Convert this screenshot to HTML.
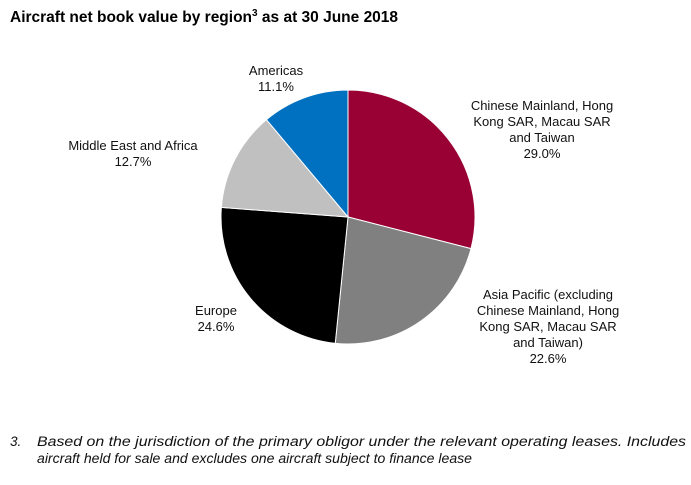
<!DOCTYPE html>
<html><head><meta charset="utf-8"><style>
body{margin:0;background:#fff;}
svg{display:block;font-family:"Liberation Sans",Arial,sans-serif;}
</style></head><body>
<svg width="691" height="485" viewBox="0 0 691 485">
<text x="10" y="22" font-size="15.5" font-weight="bold" fill="#000">Aircraft net book value by region<tspan font-size="10" dy="-6">3</tspan><tspan dy="6"> as at 30 June 2018</tspan></text>
<g id="slices"></g>
<g font-size="13" fill="#111" text-anchor="middle">
<text x="276" y="75"><tspan x="276">Americas</tspan><tspan x="276" dy="16" id="v4">11.1%</tspan></text>
<text x="133" y="150"><tspan x="133">Middle East and Africa</tspan><tspan x="133" dy="16" id="v3">12.7%</tspan></text>
<text x="542" y="110"><tspan x="542">Chinese Mainland, Hong</tspan><tspan x="542" dy="16">Kong SAR, Macau SAR</tspan><tspan x="542" dy="16">and Taiwan</tspan><tspan x="542" dy="16" id="v0">29.0%</tspan></text>
<text x="548" y="299"><tspan x="548">Asia Pacific (excluding</tspan><tspan x="548" dy="16">Chinese Mainland, Hong</tspan><tspan x="548" dy="16">Kong SAR, Macau SAR</tspan><tspan x="548" dy="16">and Taiwan)</tspan><tspan x="548" dy="16" id="v1">22.6%</tspan></text>
<text x="216" y="315"><tspan x="216">Europe</tspan><tspan x="216" dy="16" id="v2">24.6%</tspan></text>
</g>
<g font-size="13.5" font-style="italic" fill="#111">
<text x="10" y="446">3.</text>
<text x="37" y="446" textLength="649" lengthAdjust="spacingAndGlyphs">Based on the jurisdiction of the primary obligor under the relevant operating leases. Includes</text>
<text x="37" y="463" textLength="435" lengthAdjust="spacingAndGlyphs">aircraft held for sale and excludes one aircraft subject to finance lease</text>
</g>
</svg>
<script>
const categories = ["Chinese Mainland, Hong Kong SAR, Macau SAR and Taiwan","Asia Pacific","Europe","Middle East and Africa","Americas"];
const values = [29.0, 22.6, 24.6, 12.7, 11.1];
const colors = ["#990033","#808080","#000000","#c0c0c0","#0070c0"];
const cx=348, cy=217, r=127;
const total = values.reduce((a,b)=>a+b,0);
const g=document.getElementById('slices');
let a0=0;
function pt(a){return [cx+r*Math.sin(a), cy-r*Math.cos(a)];}
values.forEach((v,i)=>{
  const a1=a0+v/total*2*Math.PI;
  const p0=pt(a0), p1=pt(a1);
  const large=(a1-a0)>Math.PI?1:0;
  const p=document.createElementNS('http://www.w3.org/2000/svg','path');
  p.setAttribute('d',`M${cx},${cy}L${p0[0]},${p0[1]}A${r},${r} 0 ${large} 1 ${p1[0]},${p1[1]}Z`);
  p.setAttribute('fill',colors[i]);
  p.setAttribute('stroke','#fff');
  p.setAttribute('stroke-width','1');
  
  
  g.appendChild(p);
  const t=document.getElementById('v'+i);
  if(t) t.textContent=v.toFixed(1)+'%';
  a0=a1;
});
</script>
</body></html>
